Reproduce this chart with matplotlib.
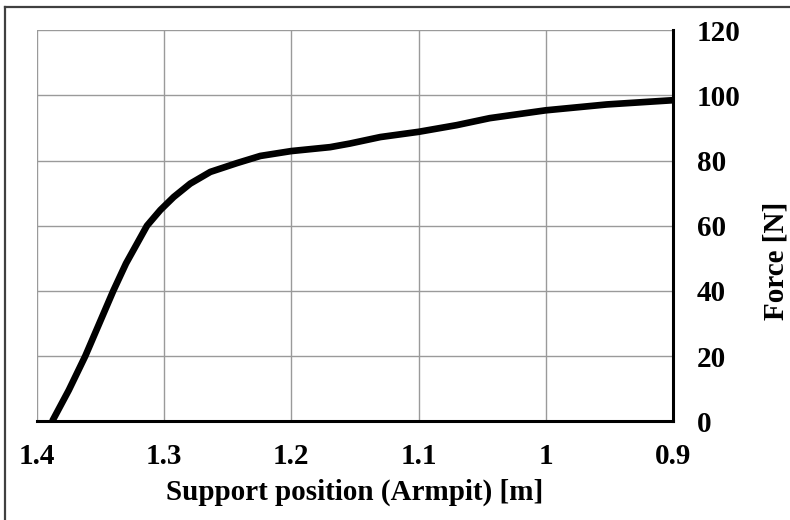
import matplotlib.pyplot as plt
from matplotlib.lines import Line2D

# support position [m] vs force [N]
pos = [1.388, 1.375, 1.362, 1.351, 1.340, 1.330, 1.3135, 1.303, 1.2925, 1.2795,
       1.2637, 1.2428, 1.2244, 1.20, 1.1695, 1.154, 1.130, 1.10, 1.070, 1.044,
       1.00, 0.952, 0.90]
force = [0, 9.5, 20, 30, 40, 48.4, 60, 64.8, 68.8, 72.9,
         76.5, 79.2, 81.4, 82.9, 84.1, 85.2, 87.2, 88.8, 90.85, 93.0,
         95.4, 97.2, 98.5]
xticks = [1.4, 1.3, 1.2, 1.1, 1.0, 0.9]
xticklabels = ["1.4", "1.3", "1.2", "1.1", "1", "0.9"]
yticks = [0, 20, 40, 60, 80, 100, 120]

plt.rcParams["font.family"] = ["Liberation Serif", "DejaVu Serif"]
plt.rcParams["font.weight"] = "bold"

fig = plt.figure(figsize=(7.9, 5.2), dpi=100)
ax = fig.add_axes([0.0468, 0.19, 0.805, 0.752])

ax.plot(pos, force, color="black", lw=4.8, solid_capstyle="butt", solid_joinstyle="round", zorder=3)

ax.set_xlim(1.4, 0.9)
ax.set_ylim(0, 120)
ax.set_xticks(xticks)
ax.set_xticklabels(xticklabels)
ax.set_yticks(yticks)
ax.yaxis.tick_right()
ax.yaxis.set_label_position("right")
ax.tick_params(length=0, labelsize=21)
ax.tick_params(axis="x", pad=16)
ax.tick_params(axis="y", pad=17)
for lab in ax.get_xticklabels() + ax.get_yticklabels():
    lab.set_fontweight("bold")

ax.grid(True, color="#9a9a9a", lw=1)
ax.set_axisbelow(True)
for s in ["top", "left"]:
    ax.spines[s].set_visible(False)
for s in ["bottom", "right"]:
    ax.spines[s].set_linewidth(2.2)
    ax.spines[s].set_zorder(4)

ax.set_xlabel("Support position (Armpit) [m]", fontsize=21, fontweight="bold", labelpad=6)
ax.set_ylabel("Force [N]", fontsize=21, fontweight="bold")
ax.yaxis.set_label_coords(1.141, 0.41)

# outer frame (top and left edges only visible)
fig.add_artist(Line2D([5 / 790, 5 / 790], [0, 1 - 7 / 520], transform=fig.transFigure, color="#404040", lw=1.6))
fig.add_artist(Line2D([5 / 790, 1], [1 - 7 / 520, 1 - 7 / 520], transform=fig.transFigure, color="#404040", lw=1.6))

fig.savefig("out.png", dpi=100)
